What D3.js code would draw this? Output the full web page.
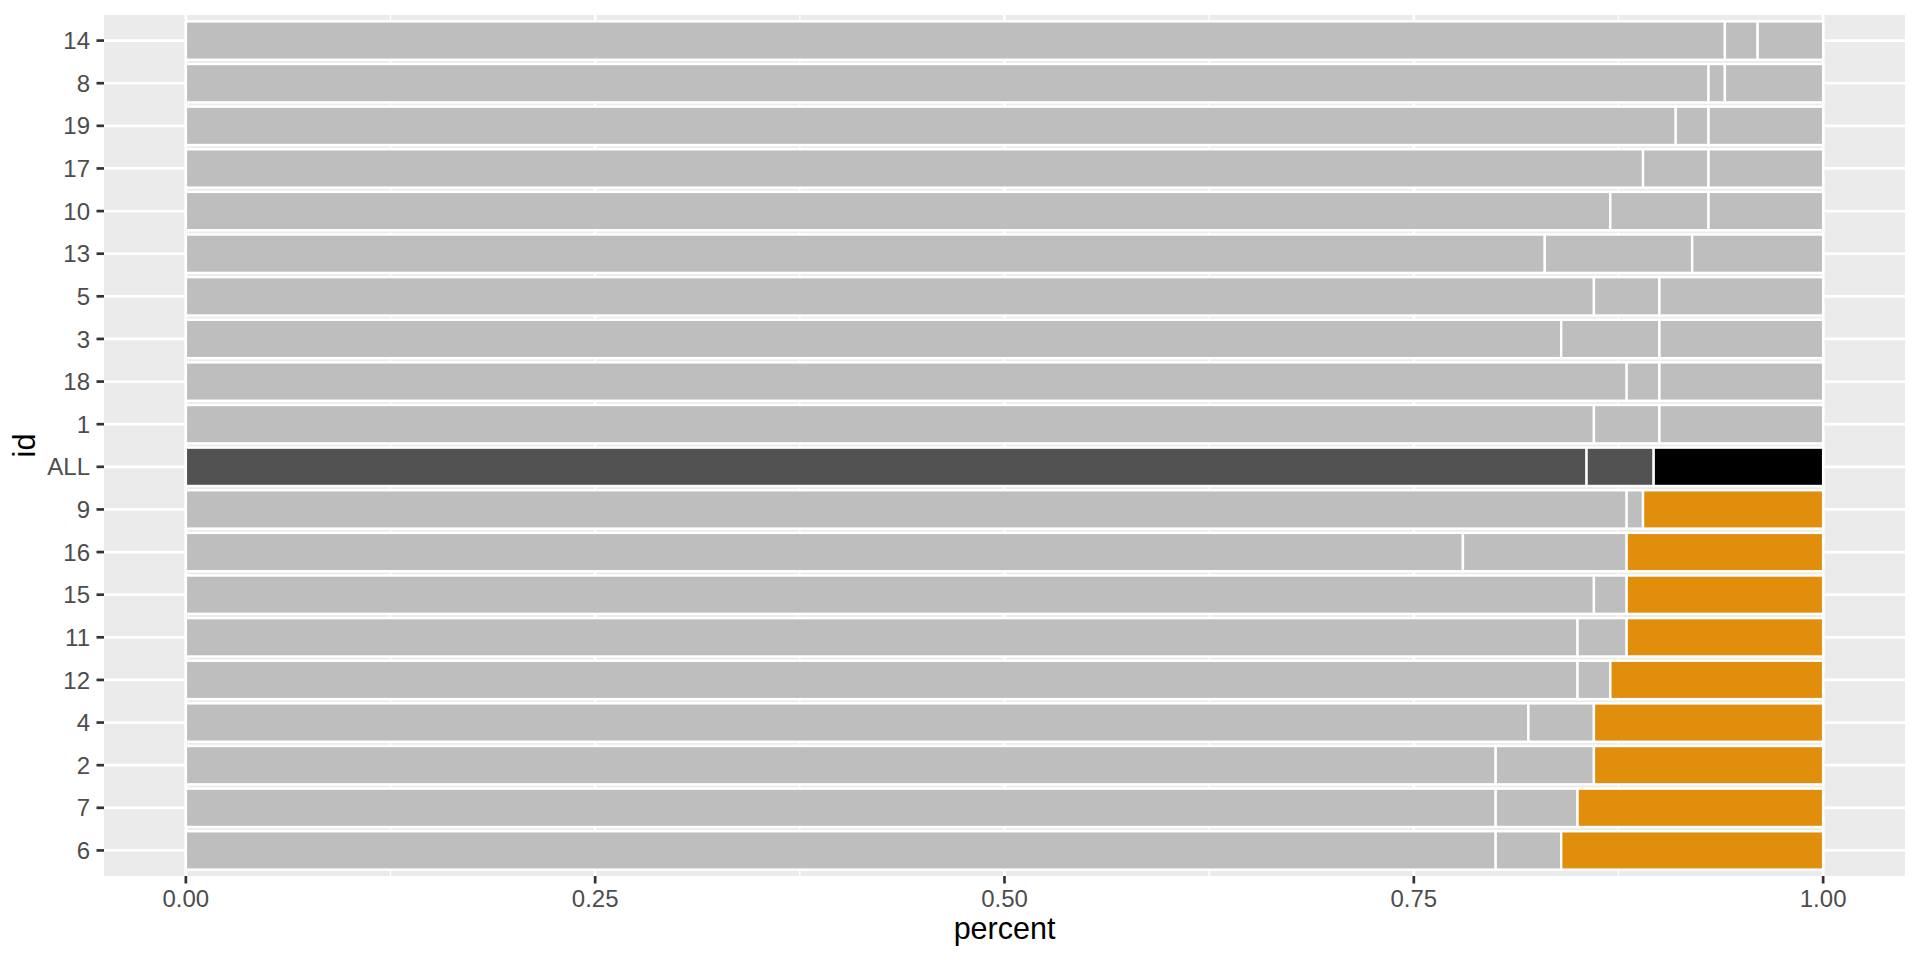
<!DOCTYPE html>
<html>
<head>
<meta charset="utf-8">
<script src="https://cdn.jsdelivr.net/npm/d3@7"></script>
<style>
  html, body { margin: 0; padding: 0; background: #ffffff; }
  svg { display: block; font-family: "Liberation Sans", Arial, Helvetica, sans-serif; }
</style>
</head>
<body>
<svg id="chart" width="1920" height="960"></svg>
<script>
// ---- data (rows listed top to bottom) ----
const ids    = ["14","8","19","17","10","13","5","3","18","1","ALL","9","16","15","11","12","4","2","7","6"];
const groups = ["top","top","top","top","top","top","top","top","top","top","all","bottom","bottom","bottom","bottom","bottom","bottom","bottom","bottom","bottom"];
const share1 = [0.94,0.93,0.91,0.89,0.87,0.83,0.86,0.84,0.88,0.86,0.8555,0.88,0.78,0.86,0.85,0.85,0.82,0.80,0.80,0.80];
const share2 = [0.02,0.01,0.02,0.04,0.06,0.09,0.04,0.06,0.02,0.04,0.0410,0.01,0.10,0.02,0.03,0.02,0.04,0.06,0.05,0.04];
const share3 = [0.04,0.06,0.07,0.07,0.07,0.08,0.10,0.10,0.10,0.10,0.1035,0.11,0.12,0.12,0.12,0.13,0.14,0.14,0.15,0.16];
const xTicks = [0, 0.25, 0.5, 0.75, 1];
const xTickLabels = ["0.00","0.25","0.50","0.75","1.00"];
const xMinor = [0.125, 0.375, 0.625, 0.875];
const xTitle = "percent";
const yTitle = "id";

// ---- layout ----
const panel = {left: 104, right: 1905, top: 15, bottom: 876};
const svg = d3.select("#chart");

const x = d3.scaleLinear()
  .domain([-0.05, 1.05])
  .range([panel.left, panel.right]);

const y = d3.scaleBand()
  .domain(ids)
  .range([panel.top, panel.bottom])
  .paddingInner(0.1)
  .paddingOuter(0.15);

const yc = d => y(d) + y.bandwidth() / 2;

const fillFor = (grp, k) => {
  if (grp === "all") return k === 2 ? "#000000" : "#525252";
  if (grp === "bottom" && k === 2) return "#E08E0B";
  return "#BEBEBE";
};

// panel background
svg.append("rect")
  .attr("x", panel.left).attr("y", panel.top)
  .attr("width", panel.right - panel.left)
  .attr("height", panel.bottom - panel.top)
  .attr("fill", "#EBEBEB");

const grid = svg.append("g");
grid.selectAll("line.minor").data(xMinor).join("line")
  .attr("x1", d => x(d)).attr("x2", d => x(d))
  .attr("y1", panel.top).attr("y2", panel.bottom)
  .attr("stroke", "#ffffff").attr("stroke-width", 1.4);
grid.selectAll("line.xmajor").data(xTicks).join("line")
  .attr("x1", d => x(d)).attr("x2", d => x(d))
  .attr("y1", panel.top).attr("y2", panel.bottom)
  .attr("stroke", "#ffffff").attr("stroke-width", 2.7);
grid.selectAll("line.ymajor").data(ids).join("line")
  .attr("x1", panel.left).attr("x2", panel.right)
  .attr("y1", d => yc(d)).attr("y2", d => yc(d))
  .attr("stroke", "#ffffff").attr("stroke-width", 2.7);

// stacked data
const table = ids.map((id, i) => ({id, group: groups[i], s1: share1[i], s2: share2[i], s3: share3[i]}));
const stack = d3.stack().keys(["s1","s2","s3"]);
const series = stack(table);

const bars = svg.append("g");
series.forEach((s, k) => {
  bars.selectAll("rect.s" + k).data(s).join("rect")
    .attr("x", d => x(d[0]))
    .attr("width", d => x(d[1]) - x(d[0]))
    .attr("y", d => y(d.data.id))
    .attr("height", y.bandwidth())
    .attr("fill", d => fillFor(d.data.group, k))
    .attr("stroke", "#ffffff")
    .attr("stroke-width", 2.4);
});

// y axis
const yAxis = svg.append("g");
yAxis.selectAll("line").data(ids).join("line")
  .attr("x1", panel.left - 7.5).attr("x2", panel.left)
  .attr("y1", d => yc(d)).attr("y2", d => yc(d))
  .attr("stroke", "#333333").attr("stroke-width", 2.7);
yAxis.selectAll("text").data(ids).join("text")
  .attr("x", panel.left - 14)
  .attr("y", d => yc(d))
  .attr("dy", "0.36em")
  .attr("text-anchor", "end")
  .attr("font-size", 24)
  .attr("fill", "#4D4D4D")
  .text(d => d);

// x axis
const xAxis = svg.append("g");
xAxis.selectAll("line").data(xTicks).join("line")
  .attr("x1", d => x(d)).attr("x2", d => x(d))
  .attr("y1", panel.bottom).attr("y2", panel.bottom + 7.5)
  .attr("stroke", "#333333").attr("stroke-width", 2.7);
xAxis.selectAll("text").data(xTicks).join("text")
  .attr("x", d => x(d))
  .attr("y", panel.bottom + 31)
  .attr("text-anchor", "middle")
  .attr("font-size", 24)
  .attr("fill", "#4D4D4D")
  .text((d, i) => xTickLabels[i]);

// titles
svg.append("text")
  .attr("x", (panel.left + panel.right) / 2)
  .attr("y", 939)
  .attr("text-anchor", "middle")
  .attr("font-size", 30.5)
  .attr("fill", "#000000")
  .text(xTitle);

svg.append("text")
  .attr("transform", `translate(35, ${(panel.top + panel.bottom) / 2}) rotate(-90)`)
  .attr("text-anchor", "middle")
  .attr("font-size", 30.5)
  .attr("fill", "#000000")
  .text(yTitle);
</script>
</body>
</html>
